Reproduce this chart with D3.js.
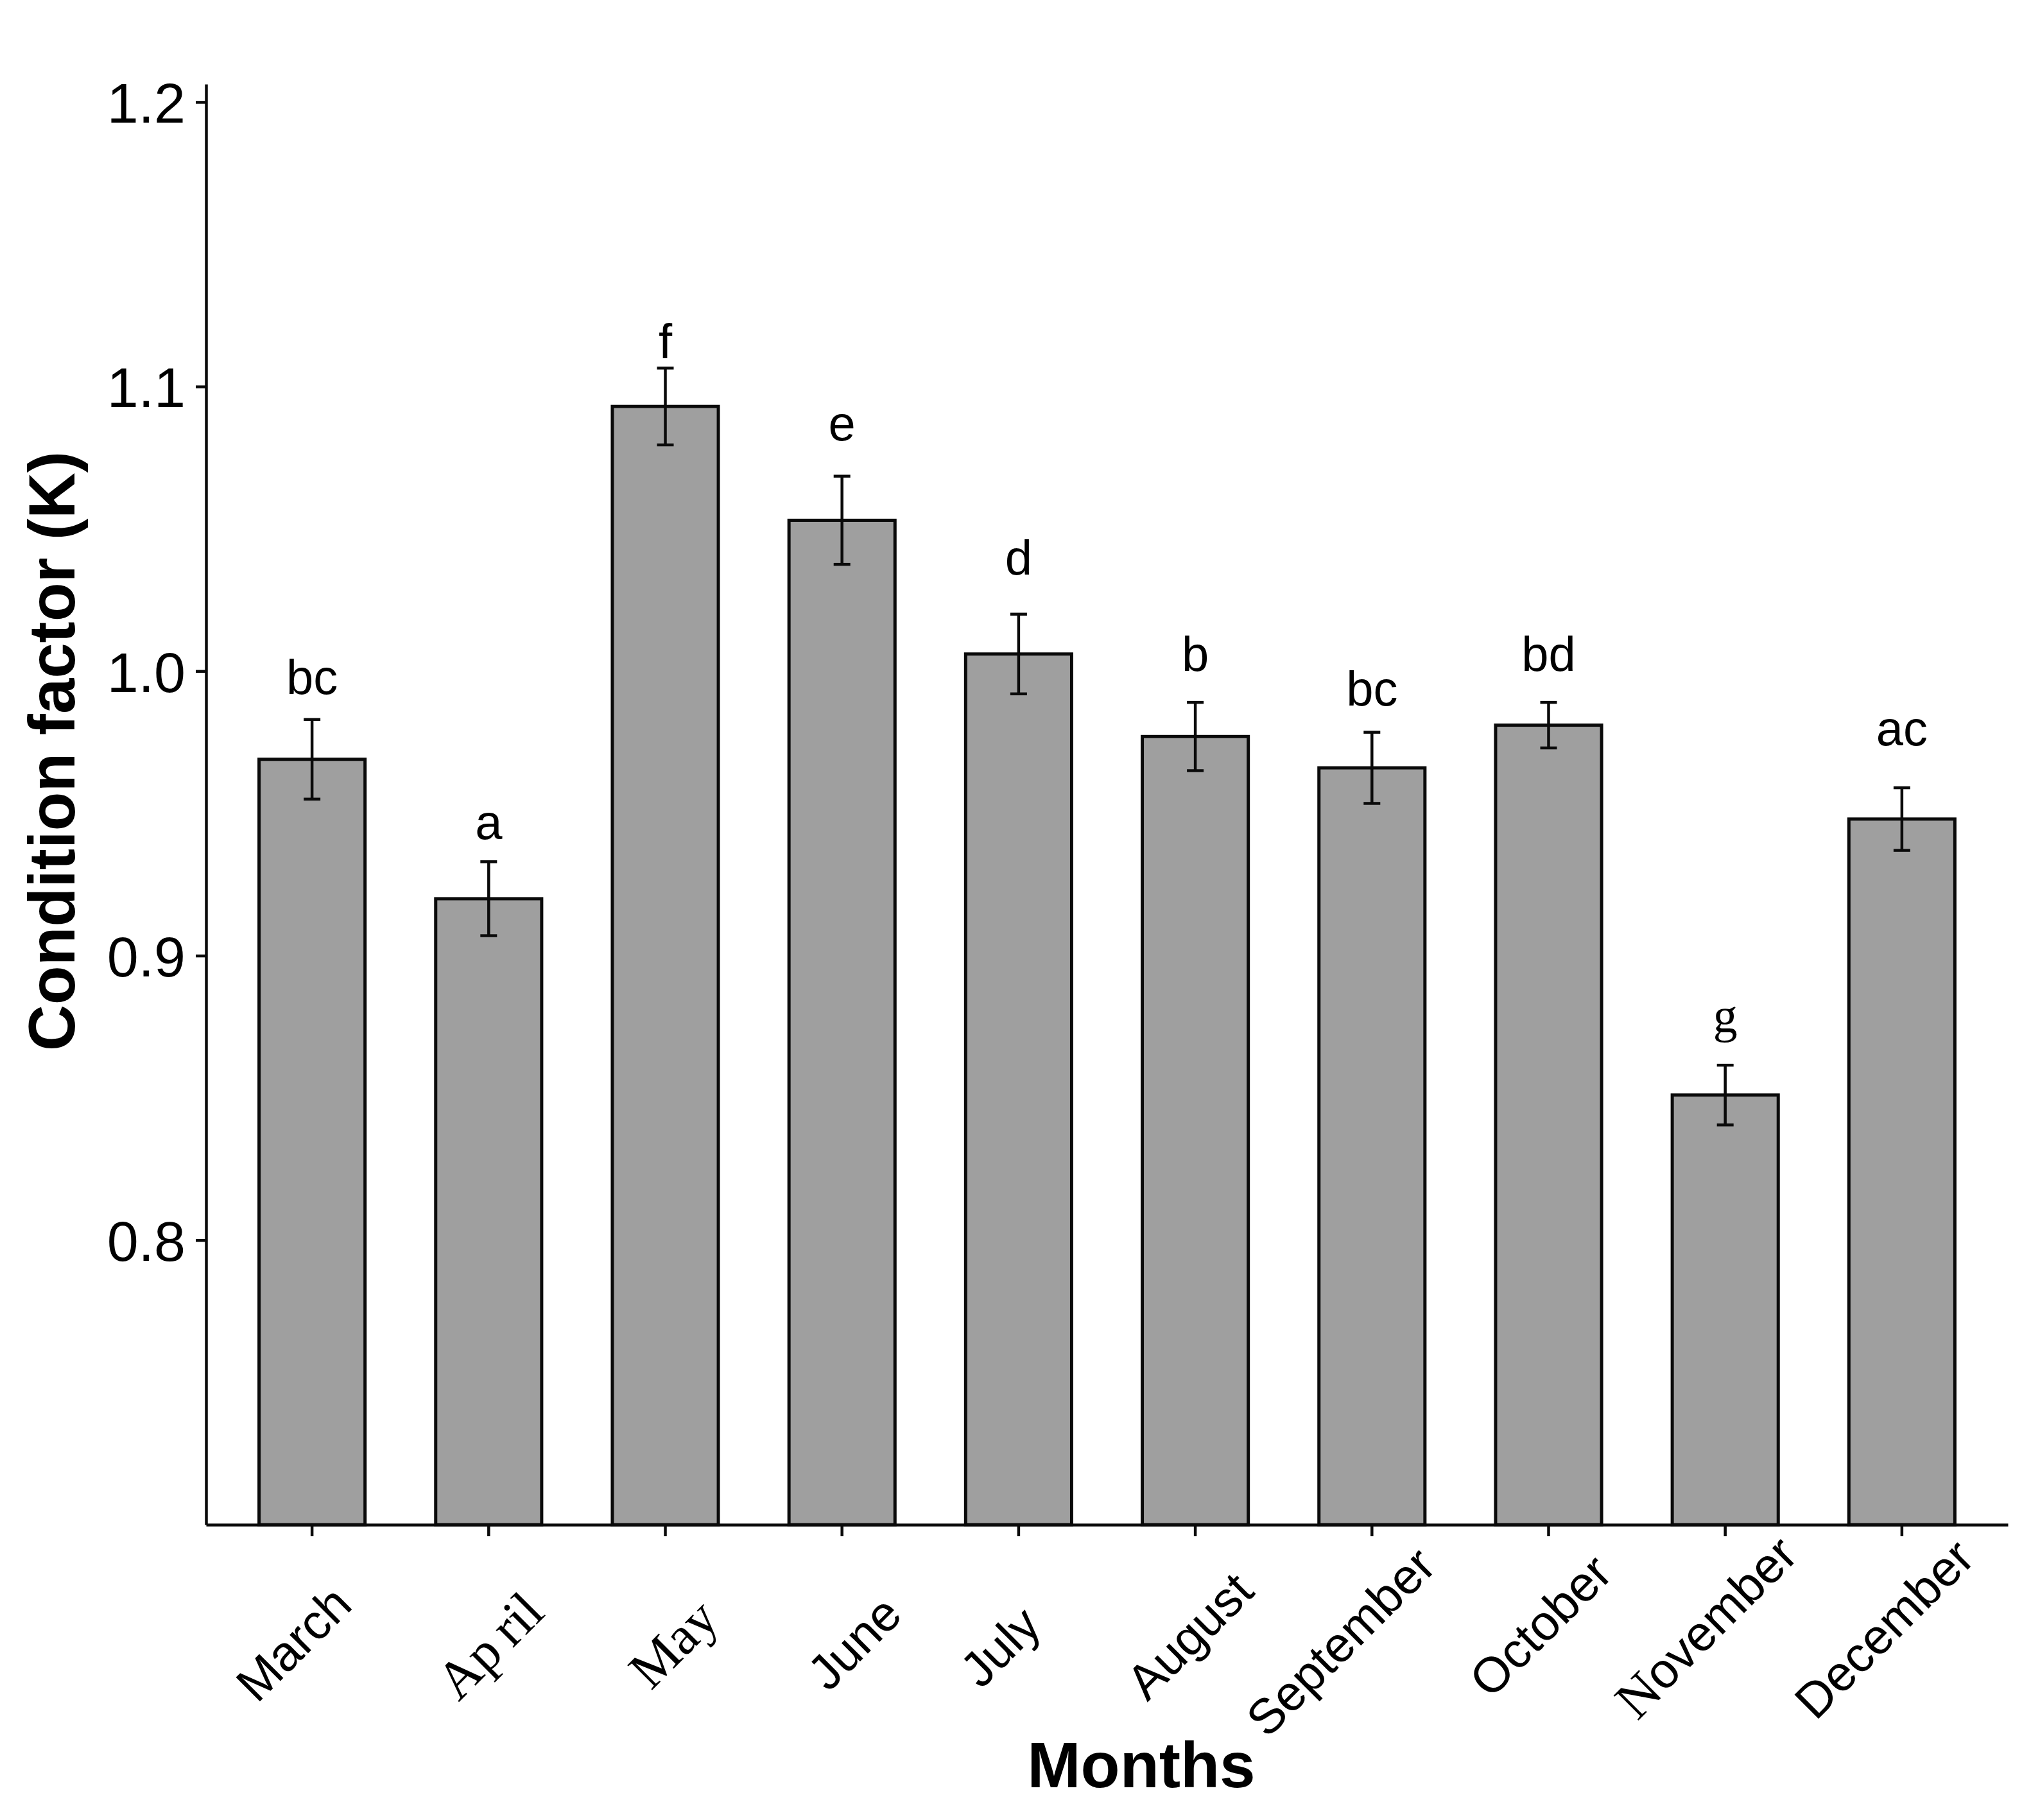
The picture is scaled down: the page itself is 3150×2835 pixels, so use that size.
<!DOCTYPE html>
<html>
<head>
<meta charset="utf-8">
<script src="https://cdn.jsdelivr.net/npm/d3@7"></script>
<style>
  html, body { margin: 0; padding: 0; background: #ffffff; }
  svg { display: block; }
</style>
</head>
<body>
<svg id="chart" width="3150" height="2835"></svg>
<script>
// ---- data ----
const months = ["March", "April", "May", "June", "July", "August", "September", "October", "November", "December"];
const meanK = [0.969, 0.920, 1.093, 1.053, 1.006, 0.977, 0.966, 0.981, 0.851, 0.948];
const seK = [0.014, 0.013, 0.0135, 0.0155, 0.014, 0.012, 0.0125, 0.008, 0.0105, 0.011];
const groupLetters = ["bc", "a", "f", "e", "d", "b", "bc", "bd", "g", "ac"];
const letterAt = [0.992, 0.941, 1.110, 1.081, 1.034, 1.000, 0.988, 1.000, 0.873, 0.974];
const yTicks = [0.8, 0.9, 1.0, 1.1, 1.2];
const yDomain = [0.7, 1.2063];

(function () {
// ---- layout / style ----
const W = 3150, H = 2835;
const mLeft = 321, mRight = 3128, mTop = 131, mBottom = 2375;
const SANS = "'Liberation Sans', Arial, Helvetica, sans-serif";
const SERIF = "'Liberation Serif', 'Times New Roman', serif";

const svg = d3.select("#chart");
svg.append("rect").attr("width", W).attr("height", H).attr("fill", "#ffffff");

const x = d3.scaleBand().domain(months).range([mLeft, mRight]).paddingInner(0.4).paddingOuter(0.3);
const y = d3.scaleLinear().domain(yDomain).range([mBottom, mTop]);

const rows = months.map((m, i) => ({ m, v: meanK[i], se: seK[i], L: groupLetters[i], la: letterAt[i] }));

// bars
svg.append("g").selectAll("rect").data(rows).join("rect")
  .attr("x", d => x(d.m))
  .attr("y", d => y(d.v))
  .attr("width", x.bandwidth())
  .attr("height", d => y(yDomain[0]) - y(d.v))
  .attr("fill", "#9f9f9f")
  .attr("stroke", "#0a0a0a")
  .attr("stroke-width", 5);

// error bars
const cx = d => x(d.m) + x.bandwidth() / 2;
const capW = 13;
const eg = svg.append("g").attr("stroke", "#0a0a0a").attr("stroke-width", 4.5).attr("fill", "none");
eg.selectAll("line.v").data(rows).join("line").attr("class", "v")
  .attr("x1", cx).attr("x2", cx)
  .attr("y1", d => y(d.v + d.se)).attr("y2", d => y(d.v - d.se));
eg.selectAll("line.t").data(rows).join("line").attr("class", "t")
  .attr("x1", d => cx(d) - capW).attr("x2", d => cx(d) + capW)
  .attr("y1", d => y(d.v + d.se)).attr("y2", d => y(d.v + d.se));
eg.selectAll("line.b").data(rows).join("line").attr("class", "b")
  .attr("x1", d => cx(d) - capW).attr("x2", d => cx(d) + capW)
  .attr("y1", d => y(d.v - d.se)).attr("y2", d => y(d.v - d.se));

// significance letters
svg.append("g").selectAll("text").data(rows).join("text")
  .attr("x", cx)
  .attr("y", d => y(d.la))
  .attr("text-anchor", "middle")
  .attr("font-family", d => d.L === "g" ? SERIF : SANS)
  .attr("font-size", d => d.L === "g" ? 76 : 76)
  .attr("fill", "#000")
  .text(d => d.L);

// y axis
const yAxis = svg.append("g").attr("transform", `translate(${mLeft},0)`)
  .call(d3.axisLeft(y).tickValues(yTicks).tickFormat(d3.format(".1f")).tickSize(16).tickSizeOuter(0).tickPadding(16));
yAxis.select(".domain").attr("stroke", "#0a0a0a").attr("stroke-width", 4.5);
yAxis.selectAll(".tick line").attr("stroke", "#0a0a0a").attr("stroke-width", 4.5);
yAxis.selectAll(".tick text").attr("font-family", SANS).attr("font-size", 88).attr("fill", "#000").attr("dy", "0.36em");

// x axis
const xAxis = svg.append("g").attr("transform", `translate(0,${mBottom})`)
  .call(d3.axisBottom(x).tickSize(18).tickSizeOuter(0).tickFormat(""));
xAxis.select(".domain").attr("stroke", "#0a0a0a").attr("stroke-width", 4.5);
xAxis.selectAll(".tick line").attr("stroke", "#0a0a0a").attr("stroke-width", 4.5);

// rotated month labels (centered on a point under each tick)
const labelBaseY = 2552;
const nudge = {
  March: [-29, 8], April: [1, 11], May: [12, 8], June: [19, 7], July: [-29, 13],
  August: [-9, -4], September: [-49, 5], October: [-13, -20], November: [-30, -18], December: [-28, -15]
};
const serifMonths = ["April", "May"];
const lab = svg.append("g").selectAll("text").data(months).join("text")
  .attr("transform", m => `translate(${x(m) + x.bandwidth() / 2 + nudge[m][0]},${labelBaseY + nudge[m][1]}) rotate(-45)`)
  .attr("text-anchor", "middle")
  .attr("dominant-baseline", "central")
  .attr("font-size", m => serifMonths.includes(m) ? 84 : 77)
  .attr("fill", "#000")
  .attr("font-family", m => serifMonths.includes(m) ? SERIF : SANS);
lab.each(function (m) {
  const t = d3.select(this);
  if (m === "April") {
    t.append("tspan").text("Ap");
    t.append("tspan").attr("dx", 16).text("ril");
  } else if (m === "November") {
    t.append("tspan").attr("font-family", SERIF).attr("font-size", 84).text("N");
    t.append("tspan").attr("font-family", SANS).text("ovember");
  } else {
    t.text(m);
  }
});

// axis titles
svg.append("text")
  .attr("transform", `translate(116,1170) rotate(-90)`)
  .attr("text-anchor", "middle")
  .attr("font-family", SANS).attr("font-weight", "bold").attr("font-size", 102)
  .attr("textLength", 934).attr("lengthAdjust", "spacingAndGlyphs")
  .attr("fill", "#000")
  .text("Condition factor (K)");

svg.append("text")
  .attr("x", 1778).attr("y", 2784)
  .attr("text-anchor", "middle")
  .attr("font-family", SANS).attr("font-weight", "bold").attr("font-size", 100)
  .attr("fill", "#000")
  .text("Months");
})();
</script>
</body>
</html>
